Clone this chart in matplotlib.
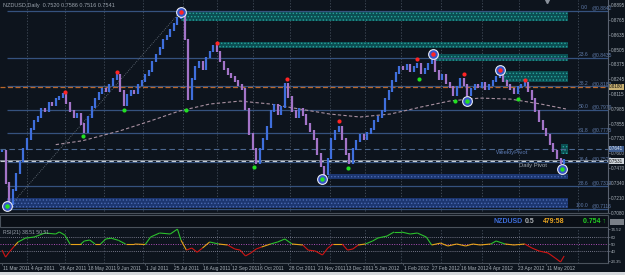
import matplotlib
matplotlib.use('Agg')
import matplotlib.pyplot as plt
import matplotlib.transforms as mtransforms
from matplotlib.patches import Rectangle
from matplotlib.collections import LineCollection

W, H = 625, 275
BG = '#0d141d'
plt.rcParams['font.family'] = ['Liberation Sans', 'DejaVu Sans']

# ---------------- data ----------------
# closes sampled every 2 daily bars (bar index = 2*k), 11 Mar 2011 .. May 2012
closes = [
    0.7624, 0.7339, 0.7157, 0.7278, 0.7425, 0.7529, 0.7641, 0.7728, 0.7814, 0.7883,
    0.7917, 0.7987, 0.7969, 0.8038, 0.8021, 0.8073, 0.8090, 0.8116, 0.8038, 0.7969,
    0.7917, 0.7943, 0.7857, 0.7788, 0.7917, 0.8004, 0.8073, 0.8125, 0.8160, 0.8142,
    0.8194, 0.8246, 0.8280, 0.8142, 0.8021, 0.8108, 0.8142, 0.8125, 0.8194, 0.8229,
    0.8280, 0.8315, 0.8401, 0.8462, 0.8522, 0.8592, 0.8626, 0.8678, 0.8730, 0.8782,
    0.8816, 0.8592, 0.8073, 0.8246, 0.8350, 0.8401, 0.8332, 0.8436, 0.8488, 0.8540,
    0.8488, 0.8401, 0.8332, 0.8289, 0.8263, 0.8229, 0.8194, 0.8160, 0.7987, 0.7771,
    0.7641, 0.7511, 0.7641, 0.7728, 0.7831, 0.7969, 0.8021, 0.7943, 0.8004, 0.8203,
    0.8090, 0.7969, 0.7917, 0.7987, 0.7935, 0.7857, 0.7797, 0.7728, 0.7598, 0.7486,
    0.7416, 0.7555, 0.7728, 0.7797, 0.7831, 0.7728, 0.7598, 0.7511, 0.7641, 0.7710,
    0.7762, 0.7728, 0.7779, 0.7814, 0.7883, 0.7917, 0.7969, 0.8073, 0.8142, 0.8229,
    0.8298, 0.8350, 0.8332, 0.8367, 0.8315, 0.8350, 0.8384, 0.8298, 0.8332, 0.8384,
    0.8436, 0.8315, 0.8246, 0.8280, 0.8211, 0.8177, 0.8108, 0.8177, 0.8246, 0.8194,
    0.8108, 0.8160, 0.8194, 0.8177, 0.8211, 0.8160, 0.8194, 0.8229, 0.8263, 0.8298,
    0.8229, 0.8194, 0.8160, 0.8125, 0.8177, 0.8194, 0.8211, 0.8142, 0.8073, 0.7969,
    0.7883, 0.7814, 0.7762, 0.7684, 0.7624, 0.7555, 0.7511, 0.7540]
bar_idx = [2 * k for k in range(len(closes))]

ma_idx = [30, 45, 66, 83, 99, 116, 133, 150, 166, 183, 200, 217, 234, 250, 267, 284, 301, 315]
ma_vals = [0.7676, 0.7710, 0.7797, 0.7883, 0.7969, 0.8030, 0.8056, 0.8030, 0.7987, 0.7943,
           0.7917, 0.7943, 0.8004, 0.8056, 0.8082, 0.8073, 0.8030, 0.7987]

fib_pcts = ['0.0', '23.6', '38.2', '50.0', '61.8', '76.4', '88.6', '100.0']
fib_prices = [0.8842, 0.8435, 0.8183, 0.7979, 0.7775, 0.7523, 0.7313, 0.7116]
fib_anchor_idx = [3, 100]
fib_anchor_px = [0.7116, 0.8842]

orange_level = 0.8180
weekly_pivot = 0.7641
daily_pivot = 0.7531
bid_price = 0.7541

red_idx = [35, 64, 120, 159, 188, 232, 258, 292]
red_px = [0.8135, 0.8306, 0.8566, 0.8246, 0.7883, 0.8419, 0.8289, 0.8237]
green_idx = [45, 68, 103, 141, 193, 233, 253, 288]
green_px = [0.7753, 0.7978, 0.7978, 0.7477, 0.7469, 0.8246, 0.8056, 0.8073]
ring_red_idx = [100, 241, 278]
ring_red_px = [0.8833, 0.8470, 0.8324]
ring_green_idx = [3, 179, 260, 313]
ring_green_px = [0.7140, 0.7373, 0.8056, 0.7460]

# zones: (start idx, end idx, low, high)
teal_zones = [(100, 316, 0.8758, 0.8842), (121, 316, 0.8522, 0.8574),
              (242, 316, 0.8401, 0.8470), (280, 316, 0.8220, 0.8315),
              (312, 316, 0.7598, 0.7684)]
blue_zones = [(182, 316, 0.7373, 0.7416), (3, 316, 0.7123, 0.7209)]

month_idx = [14, 35, 57, 79, 101, 120, 140, 161, 183, 203, 223, 245, 268, 289, 322]

date_idx = [0, 16, 32, 48, 64, 80, 96, 112, 128, 144, 160, 176, 192, 208, 224, 240, 256, 272, 288, 304]
date_labels = ['11 Mar 2011', '4 Apr 2011', '26 Apr 2011', '18 May 2011', '9 Jun 2011',
               '1 Jul 2011', '25 Jul 2011', '16 Aug 2011', '12 Sep 2011', '6 Oct 2011',
               '28 Oct 2011', '21 Nov 2011', '13 Dec 2011', '5 Jan 2012', '1 Feb 2012',
               '27 Feb 2012', '16 Mar 2012', '4 Apr 2012', '23 Apr 2012', '11 May 2012']

price_ticks = [0.8895, 0.8765, 0.8635, 0.8505, 0.8375, 0.8245, 0.8115, 0.7985,
               0.7855, 0.7730, 0.7600, 0.7470, 0.7340, 0.7210, 0.7080]

rsi_idx = [0, 2, 4, 7, 9, 13, 18, 24, 30, 32, 35, 38, 44, 46, 49, 52, 55, 58, 61, 65,
           69, 74, 80, 83, 88, 94, 98, 100, 103, 106, 109, 112, 116, 121, 126, 130, 133,
           136, 139, 142, 145, 150, 154, 158, 162, 168, 171, 175, 179, 182, 185, 190, 193,
           196, 199, 203, 207, 210, 215, 219, 223, 228, 232, 237, 240, 245, 249, 254, 259,
           263, 267, 273, 276, 281, 286, 292, 296, 300, 305, 309, 312, 314]
rsi_vals = [42.1, 32, 39, 48, 53.6, 59, 60.7, 66.4, 65, 67.9, 63.6, 50.7, 50.7, 55, 56.4,
            50.7, 50.7, 57.9, 59, 56, 50.7, 50.7, 50, 60.7, 66.4, 65, 72, 56, 42, 45, 39,
            45, 53.6, 50.7, 49.3, 43.6, 42, 33.6, 37.9, 43.6, 46.4, 50.7, 53.6, 57.9, 50.7,
            49.3, 42, 40.7, 35, 45, 50.7, 50.7, 42, 43.6, 49.3, 50.7, 55, 59.3, 62, 67.9,
            67.9, 65, 66.4, 60.7, 49.3, 52, 47.9, 50.7, 47.9, 50.7, 49.3, 50.7, 55, 50.7,
            49.3, 50.7, 45, 40.7, 37.9, 30.7, 25, 33.6]
rsi_levels = [60, 50, 40]
rsi_tick_pos = [71.5, 60, 50, 40, 26]
rsi_tick_labels = ['74.52', '60', '50', '40', '23.35']

# ---------------- figure ----------------
fig = plt.figure(figsize=(W / 100, H / 100), dpi=100)
fig.patch.set_facecolor(BG)
plt.rcParams['hatch.linewidth'] = 0.6

XMIN, XMAX = -1.12, 338.5
ax = fig.add_axes([0, 1 - 213 / H, 608 / W, 213 / H])
ax.set_facecolor(BG)
ax.set_xlim(XMIN, XMAX)
ax.set_ylim(0.7097, 0.8937)
for s in ['top', 'left']:
    ax.spines[s].set_visible(False)
ax.spines['right'].set_color('#5a6270')
ax.spines['bottom'].set_color('#4a525c')
ax.set_xticks([])
ax.yaxis.tick_right()
ax.set_yticks(price_ticks)
ax.set_yticklabels([f'{v:.4f}' for v in price_ticks])
ax.tick_params(axis='y', labelsize=3.3, labelcolor='#a8b0b8', color='#6a7280', length=1.2, pad=0.8, width=0.5)

# month grid
ax.vlines(month_idx, 0.7097, 0.8937, colors='#46505e', linewidth=0.6, linestyles=(0, (1.5, 2)))

# zones
for x0, x1, lo, hi in teal_zones:
    ax.add_patch(Rectangle((x0, lo), x1 - x0, hi - lo, facecolor='#0b4e52', edgecolor='#27a39a',
                           hatch='.....', linewidth=0, zorder=2))
for x0, x1, lo, hi in blue_zones:
    ax.add_patch(Rectangle((x0, lo), x1 - x0, hi - lo, facecolor='#1c3670', edgecolor='#4a68b0',
                           hatch='.....', linewidth=0, zorder=2))

# fib lines
ax.hlines(fib_prices, fib_anchor_idx[0], XMAX, colors='#35527e', linewidth=0.9, zorder=3)
ax.plot(fib_anchor_idx, fib_anchor_px, color='#6a7480', linewidth=0.6, linestyle=(0, (1, 1.5)), zorder=3)
for pct, p in zip(fib_pcts, fib_prices):
    ax.text(327.5, p + 0.0004, pct, fontsize=3.6, color='#5f7aa8', ha='right', va='bottom', zorder=6)
    ax.text(329.6, p + 0.0004, f'@{p:.4f}', fontsize=3.6, color='#5f7aa8', ha='left', va='bottom', zorder=6)

# other levels
ax.axhline(orange_level, color='#b8662a', linewidth=0.9, linestyle=(0, (4, 2)), zorder=3)
ax.axhline(weekly_pivot, color='#4c6890', linewidth=0.8, linestyle=(0, (5, 3)), zorder=3)
ax.axhline(bid_price, color='#8a929c', linewidth=0.6, zorder=3)
ax.axhline(daily_pivot, color='#c4ccd4', linewidth=0.8, linestyle=(0, (4, 3)), zorder=3)
ax.text(276, weekly_pivot - 0.0012, 'WeeklyPivot', fontsize=4.2, color='#5a78b0', va='top', ha='left', zorder=6)
ax.text(289, daily_pivot - 0.0012, 'Daily Pivot', fontsize=4.2, color='#a0a8b2', va='top', ha='left', zorder=6)

# moving average
ax.plot(ma_idx, ma_vals, color='#a890a0', linewidth=0.8, linestyle=(0, (3, 2)), zorder=4)

# price bars
ext = 0.0008
prev = closes[0]
for x, c in zip(bar_idx, closes):
    lo, hi = min(prev, c) - ext, max(prev, c) + ext
    col = '#3f6fdc' if c >= prev else '#a374c8'
    ax.vlines(x, lo, hi, colors=col, linewidth=1.6, zorder=5)
    prev = c

# fractal markers
ax.plot(red_idx, red_px, 'o', ms=3, color='#ff2424', mec='none', zorder=7)
ax.plot(green_idx, green_px, 'o', ms=3, color='#22e022', mec='none', zorder=7)
ax.plot(ring_red_idx, ring_red_px, 'o', ms=7, mfc='#3654c8', mec='#e8ecf4', mew=0.8, zorder=7)
ax.plot(ring_red_idx, ring_red_px, 'o', ms=3.2, color='#ff2424', mec='none', zorder=8)
ax.plot(ring_green_idx, ring_green_px, 'o', ms=7, mfc='#3654c8', mec='#e8ecf4', mew=0.8, zorder=7)
ax.plot(ring_green_idx, ring_green_px, 'o', ms=3.2, color='#22e022', mec='none', zorder=8)

# highlighted axis labels
btr = mtransforms.blended_transform_factory(ax.transAxes, ax.transData)
for val, fc, tc in [(0.8180, '#c8b072', '#101010'), (0.7641, '#3c5a8c', '#e0e8f0'), (0.7531, '#d0d6dc', '#101010')]:
    ax.text(1.002, val, f'{val:.4f}', transform=btr, fontsize=3.3, color=tc, ha='left', va='center',
            bbox=dict(boxstyle='square,pad=0.1', fc=fc, ec='none'), clip_on=False, zorder=9)

ax.text(0.005, 0.985, 'NZDUSD,Daily  0.7520 0.7586 0.7516 0.7541', transform=ax.transAxes,
        fontsize=4, color='#9aa2ac', ha='left', va='top')
ax.plot([304.5], [0.8925], marker='v', ms=3, color='#8a929c', zorder=9, clip_on=False)

# ---------------- info strip ----------------
fig.add_artist(Rectangle((0, 1 - 227 / H), 608 / W, 12 / H, transform=fig.transFigure,
                         facecolor='#0a0f16', edgecolor='#4a525c', linewidth=0.8))
fig.add_artist(Rectangle((610 / W, 1 - 225 / H), 14 / W, 6 / H, transform=fig.transFigure,
                         facecolor='#7a8088', edgecolor='none'))
yinfo = 1 - 221.5 / H
fig.text(494 / W, yinfo, 'NZDUSD', fontsize=5, color='#3d6cd8', fontweight='bold', va='center')
fig.text(525 / W, yinfo, '0.5', fontsize=5, color='#b0b4b8', fontweight='bold', va='center')
fig.text(543 / W, yinfo, '479:58', fontsize=5, color='#e8a420', fontweight='bold', va='center')
fig.text(583 / W, yinfo, '0.754 ↑', fontsize=5, color='#22d022', fontweight='bold', va='center')

# ---------------- RSI panel ----------------
axr = fig.add_axes([0, 1 - 263 / H, 608 / W, 35 / H])
axr.set_facecolor(BG)
axr.set_xlim(XMIN, XMAX)
axr.set_ylim(23.57, 73.57)
for s in ['top', 'left']:
    axr.spines[s].set_visible(False)
axr.spines['right'].set_color('#5a6270')
axr.spines['bottom'].set_color('#4a525c')
axr.set_xticks(date_idx)
axr.set_xticklabels([])
axr.tick_params(axis='x', length=1.5, color='#6a7280', width=0.5)
axr.yaxis.tick_right()
axr.set_yticks(rsi_tick_pos)
axr.set_yticklabels(rsi_tick_labels)
axr.tick_params(axis='y', labelsize=3.2, labelcolor='#a8b0b8', color='#6a7280', length=1.2, pad=0.8, width=0.5)
axr.vlines(month_idx, 23.57, 73.57, colors='#46505e', linewidth=0.6, linestyles=(0, (1.5, 2)))
axr.axhline(rsi_levels[0], color='#9494aa', linewidth=0.6, linestyle=(0, (1, 1.5)))
axr.axhline(rsi_levels[1], color='#b050b8', linewidth=0.7, linestyle=(0, (1, 1.5)))
axr.axhline(rsi_levels[2], color='#9494aa', linewidth=0.6, linestyle=(0, (1, 1.5)))

segs, cols = [], []
for i in range(len(rsi_idx) - 1):
    segs.append([(rsi_idx[i], rsi_vals[i]), (rsi_idx[i + 1], rsi_vals[i + 1])])
    m = (rsi_vals[i] + rsi_vals[i + 1]) / 2
    cols.append('#2cc02c' if m > 52 else ('#d01414' if m < 48 else '#e8a418'))
axr.add_collection(LineCollection(segs, colors=cols, linewidths=0.8))
axr.text(0.005, 0.93, 'RSI(21) 38.51 50.51', transform=axr.transAxes, fontsize=3.7,
         color='#9aa2ac', ha='left', va='top')

bx = mtransforms.blended_transform_factory(axr.transData, axr.transAxes)
for i, lab in zip(date_idx, date_labels):
    axr.text(i + 0.3, -0.15, lab, transform=bx, fontsize=3.5, color='#a8b0b8', ha='left', va='center', clip_on=False)

fig.add_artist(Rectangle((0, 0), 1, 3 / H, transform=fig.transFigure, facecolor='#d4d8dc', edgecolor='none'))

fig.savefig('out.png', dpi=100, facecolor=BG)
